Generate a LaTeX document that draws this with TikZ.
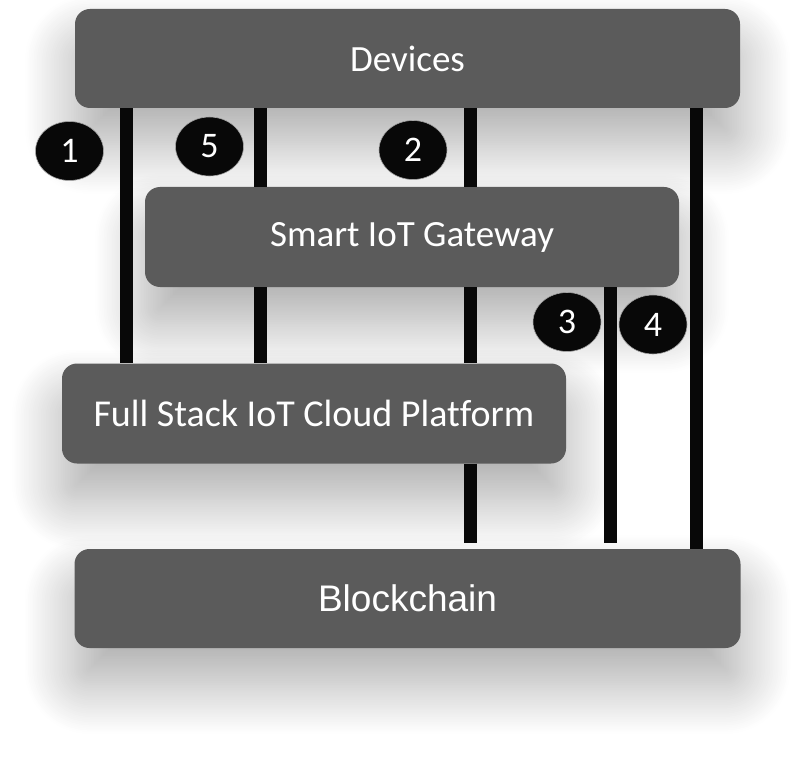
\documentclass[tikz,border=0pt]{standalone}
\usepackage{fontspec}
\setmainfont{Carlito}[Ligatures=NoCommon]
\newfontfamily\arialfont{Liberation Sans}
\usetikzlibrary{shadows.blur,shapes.geometric}
\definecolor{boxgray}{HTML}{5B5B5B}
\definecolor{dotblack}{HTML}{080808}
\tikzset{
  layer/.style={fill=boxgray, draw=none, rounded corners=15pt, inner sep=0pt,
    text=white, font=\fontsize{37}{44}\selectfont,
    blur shadow={shadow xshift=0pt, shadow yshift=-36pt, shadow blur radius=50pt,
      shadow opacity=33, shadow blur steps=30}},
  conn/.style={line width=13pt, draw=dotblack},
  badge/.style={ellipse, fill=dotblack, draw=gray!70, line width=0.6pt,
    minimum width=68pt, minimum height=59pt, inner sep=0pt,
    text=white, font=\fontsize{36}{40}\selectfont},
}
\begin{document}
\begin{tikzpicture}[x=1pt,y=-1pt]
\useasboundingbox (0,0) rectangle (800,759);
% boxes (top to bottom)
\node[layer, minimum width=665pt, minimum height=99pt] (dev) at (407.5,58.5) {Devices};
\node[layer, minimum width=534pt, minimum height=100pt] (gw) at (412,237) {Smart IoT Gateway};
\node[layer, minimum width=504pt, minimum height=100pt, font=\fontsize{38}{44}\selectfont] (cloud) at (314,413.5) {Full Stack IoT Cloud Platform};
\node[layer, minimum width=666pt, minimum height=99pt, font=\arialfont\fontsize{37}{44}\selectfont] (bc) at (407.5,598.5) {Blockchain};
% column positions
\coordinate (c1) at (126,0);
\coordinate (c5) at (260,0);
\coordinate (c2) at (470,0);
\coordinate (c3) at (610,0);
\coordinate (c4) at (696,0);
\coordinate (e2) at (470,543);
\coordinate (e3) at (610,543);
% connectors
\draw[conn] (c1 |- dev.south) -- (c1 |- cloud.north);
\draw[conn] (c5 |- dev.south) -- (c5 |- gw.north);
\draw[conn] (c5 |- gw.south) -- (c5 |- cloud.north);
\draw[conn] (c2 |- dev.south) -- (c2 |- gw.north);
\draw[conn] (c2 |- gw.south) -- (c2 |- cloud.north);
\draw[conn] (c2 |- cloud.south) -- (e2);
\draw[conn] (c3 |- gw.south) -- (e3);
\draw[conn] (c4 |- dev.south) -- (c4 |- bc.north);
% badges
\node[badge] (n1) at (69.5,151) {1};
\node[badge] (n5) at (209.5,146.5) {5};
\node[badge] (n2) at (413,150) {2};
\node[badge] (n3) at (567,322) {3};
\node[badge] (n4) at (653,324.5) {4};
\end{tikzpicture}
\end{document}
